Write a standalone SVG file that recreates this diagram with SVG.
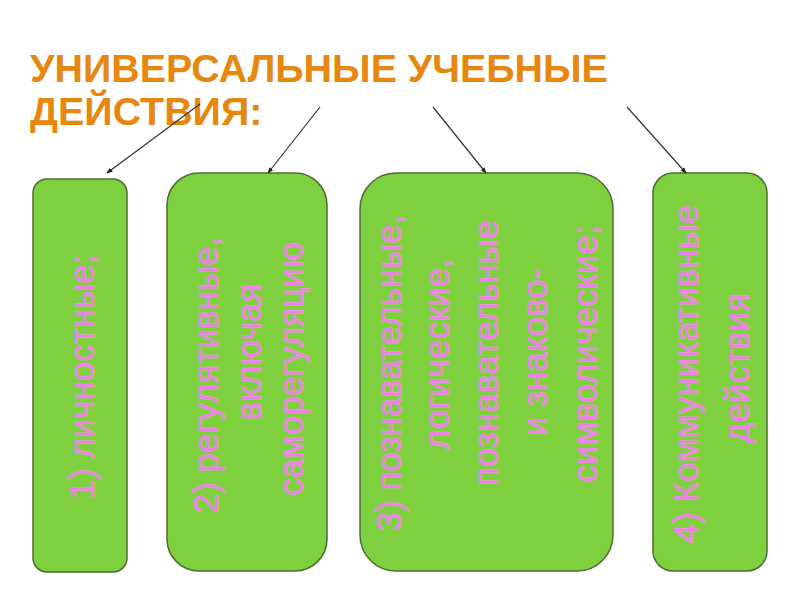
<svg xmlns="http://www.w3.org/2000/svg" width="800" height="600" viewBox="0 0 800 600">
<defs>
<style>
.title{font-family:"Liberation Sans",Arial,sans-serif;font-weight:bold;font-size:39.4px;fill:#e8870e;}
.box{fill:#7ed03e;stroke:#4d6b35;stroke-width:1.5;}
.lbl{font-family:"Liberation Sans",Arial,sans-serif;font-size:35px;fill:#ee7ee8;stroke:#f39aee;stroke-width:0.4;text-anchor:middle;}
.conn{stroke:#333;stroke-width:1.2;fill:none;marker-end:url(#ah);}
</style>
<marker id="ah" viewBox="0 0 10 10" refX="9" refY="5" markerWidth="6" markerHeight="6" orient="auto" markerUnits="userSpaceOnUse">
<path d="M0,1 L10,5 L0,9 z" fill="#222"/>
</marker>
</defs>
<rect width="800" height="600" fill="#fff"/>
<g id="title">
<text class="title" x="30" y="82">УНИВЕРСАЛЬНЫЕ УЧЕБНЫЕ</text>
<text class="title" x="30" y="125">ДЕЙСТВИЯ:</text>
</g>
<g id="node1">
<rect class="box" x="33" y="179" width="94" height="393" rx="14"/>
<text class="lbl" transform="translate(94,377) rotate(-90)">1) личностные;</text>
</g>
<g id="node2">
<rect class="box" x="167" y="173" width="160" height="398" rx="32"/>
<text class="lbl" transform="translate(218,375) rotate(-90)">2) регулятивные,</text>
<text class="lbl" transform="translate(261,352) rotate(-90)">включая</text>
<text class="lbl" transform="translate(303,369) rotate(-90)">саморегуляцию</text>
</g>
<g id="node3">
<rect class="box" x="360" y="173" width="253" height="398" rx="36"/>
<text class="lbl" transform="translate(401,373) rotate(-90)">3) познавательные,</text>
<text class="lbl" transform="translate(449,354) rotate(-90)">логические,</text>
<text class="lbl" transform="translate(498,353) rotate(-90)">познавательные</text>
<text class="lbl" transform="translate(547,352) rotate(-90)">и знаково-</text>
<text class="lbl" transform="translate(597,354) rotate(-90)">символические;</text>
</g>
<g id="node4">
<rect class="box" x="653" y="173" width="114" height="398" rx="20"/>
<text class="lbl" transform="translate(698,374) rotate(-90)">4) Коммуникативные</text>
<text class="lbl" transform="translate(749,368) rotate(-90)">действия</text>
</g>
<g id="connectors">
<line class="conn" x1="200" y1="104" x2="107" y2="173"/>
<line class="conn" x1="320" y1="107" x2="268" y2="173"/>
<line class="conn" x1="433" y1="107" x2="486" y2="173"/>
<line class="conn" x1="627" y1="107" x2="686" y2="173"/>
</g>
</svg>
